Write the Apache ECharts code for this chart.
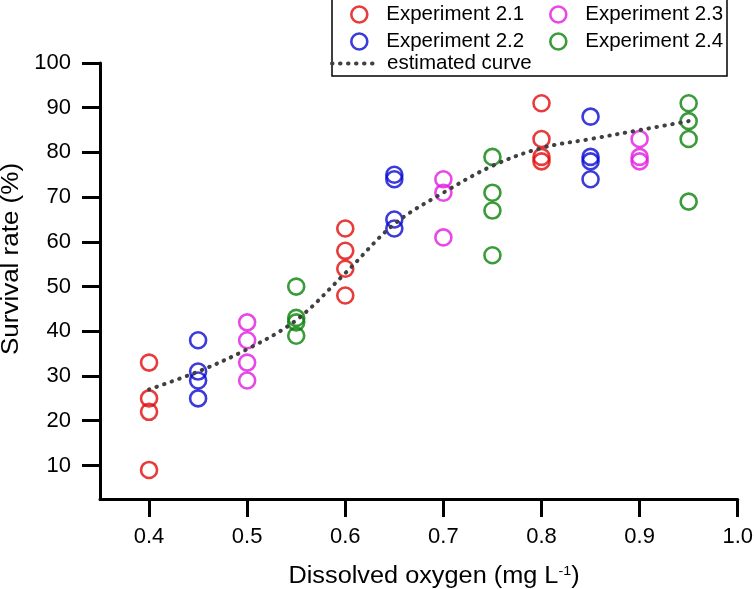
<!DOCTYPE html>
<html>
<head>
<meta charset="utf-8">
<script src="https://cdn.jsdelivr.net/npm/echarts@6/dist/echarts.min.js"></script>
<style>html,body{margin:0;padding:0;background:#fff}#c{width:756px;height:589px}</style>
</head>
<body>
<div id="c"></div>
<script>
const FONT = "'Liberation Sans', Arial, sans-serif";

const xTickValues = [0.4, 0.5, 0.6, 0.7, 0.8, 0.9, 1.0];
const yTickValues = [10, 20, 30, 40, 50, 60, 70, 80, 90, 100];

const seriesNames = ['Experiment 2.1', 'Experiment 2.2', 'Experiment 2.3', 'Experiment 2.4'];
const curveName = 'estimated curve';

const exp21_x = [0.4, 0.4, 0.4, 0.4, 0.6, 0.6, 0.6, 0.6, 0.8, 0.8, 0.8, 0.8];
const exp21_y = [33, 25, 22, 9, 63, 58, 54, 48, 91, 83, 79, 78];

const exp22_x = [0.45, 0.45, 0.45, 0.45, 0.65, 0.65, 0.65, 0.65, 0.85, 0.85, 0.85, 0.85];
const exp22_y = [38, 31, 29, 25, 75, 74, 65, 63, 88, 79, 78, 74];

const exp23_x = [0.5, 0.5, 0.5, 0.5, 0.7, 0.7, 0.7, 0.9, 0.9, 0.9];
const exp23_y = [42, 38, 33, 29, 74, 71, 61, 83, 79, 78];

const exp24_x = [0.55, 0.55, 0.55, 0.55, 0.75, 0.75, 0.75, 0.75, 0.95, 0.95, 0.95, 0.95];
const exp24_y = [50, 43, 42, 39, 79, 71, 67, 57, 91, 87, 83, 69];

const curve_x = [0.4, 0.45, 0.5, 0.55, 0.6, 0.65, 0.7, 0.75, 0.8, 0.85, 0.9, 0.95];
const curve_y = [27, 31, 36, 42.5, 53, 64, 71, 77, 81, 83, 85, 87];

const colors = ['#e20a0a', '#0a0ad2', '#e21ae2', '#0a820a'];
const curveColor = '#404040';

const pairs = (xs, ys) => xs.map((x, i) => [x, ys[i]]);
const expData = [pairs(exp21_x, exp21_y), pairs(exp22_x, exp22_y), pairs(exp23_x, exp23_y), pairs(exp24_x, exp24_y)];

const circleStyle = c => ({ color: 'rgba(0,0,0,0)', borderColor: c, borderWidth: 2.6 });

const scatterSeries = seriesNames.map((n, i) => ({
  name: n,
  type: 'scatter',
  data: expData[i],
  symbol: 'circle',
  symbolSize: 16,
  itemStyle: circleStyle(colors[i]),
  emphasis: { disabled: true },
  z: 2
}));

const legendText = { fontSize: 20.5, fontFamily: FONT, color: '#000', lineHeight: 20, padding: [0, 0, 0, 14] };
const legendItem = i => ({ name: seriesNames[i], icon: 'circle', itemStyle: circleStyle(colors[i]) });
const dotted = { color: curveColor, width: 4, type: [0.5, 7.5], cap: 'round' };

const chart = echarts.init(document.getElementById('c'), null, { renderer: 'canvas' });
chart.setOption({
  animation: false,
  backgroundColor: '#fff',
  grid: { left: 100, right: 15, top: 63, bottom: 90 },
  xAxis: {
    type: 'value', min: 0.35, max: 1.0,
    axisLine: { onZero: false, lineStyle: { color: '#000', width: 3 } },
    axisTick: { customValues: xTickValues, length: 18, lineStyle: { color: '#000', width: 3 } },
    axisLabel: { customValues: xTickValues, formatter: v => v.toFixed(1), margin: 27, fontSize: 22, fontFamily: FONT, color: '#000' },
    splitLine: { show: false }
  },
  yAxis: {
    type: 'value', min: 2.5, max: 100,
    axisLine: { onZero: false, lineStyle: { color: '#000', width: 3 } },
    axisTick: { customValues: yTickValues, length: 18, lineStyle: { color: '#000', width: 3 } },
    axisLabel: { customValues: yTickValues, margin: 29, fontSize: 22, fontFamily: FONT, color: '#000' },
    splitLine: { show: false }
  },
  legend: [
    { left: 350, top: 4, padding: 0, orient: 'vertical', itemGap: 6, itemWidth: 16, itemHeight: 16, selectedMode: false,
      data: [legendItem(0), legendItem(1)], textStyle: legendText },
    { left: 549, top: 4, padding: 0, orient: 'vertical', itemGap: 6, itemWidth: 16, itemHeight: 16, selectedMode: false,
      data: [legendItem(2), legendItem(3)], textStyle: legendText },
    { left: 330, top: 53, padding: 0, orient: 'vertical', itemWidth: 45, itemHeight: 16, selectedMode: false,
      lineStyle: dotted,
      itemStyle: { color: 'rgba(0,0,0,0)', borderWidth: 0, opacity: 0 },
      data: [{ name: curveName }], textStyle: Object.assign({}, legendText, { padding: [0, 0, 0, 5] }) }
  ],
  graphic: [
    { type: 'rect', shape: { x: 332, y: -2, width: 395, height: 78 }, style: { fill: 'none', stroke: '#000', lineWidth: 1.5 }, z: 0, silent: true },
    { type: 'text', x: 12, y: 259, rotation: Math.PI / 2, scaleX: 1.13,
      style: { text: 'Survival rate (%)', fontSize: 23, fontFamily: FONT, fill: '#000', align: 'center', verticalAlign: 'middle' } },
    { type: 'text', x: 434, y: 577, scaleX: 1.1,
      style: { text: '{a|Dissolved oxygen (mg L}{s|-1}{a|)}', align: 'center', verticalAlign: 'middle',
        rich: { a: { fontSize: 23, fontFamily: FONT, fill: '#000' }, s: { fontSize: 13, fontFamily: FONT, fill: '#000', padding: [0, 0, 12, 0] } } } }
  ],
  series: scatterSeries.concat([{
    name: curveName,
    type: 'line',
    data: pairs(curve_x, curve_y),
    smooth: 0.35,
    symbol: 'none',
    showSymbol: false,
    lineStyle: dotted,
    itemStyle: { color: curveColor },
    emphasis: { disabled: true },
    z: 3
  }])
});
</script>
</body>
</html>
